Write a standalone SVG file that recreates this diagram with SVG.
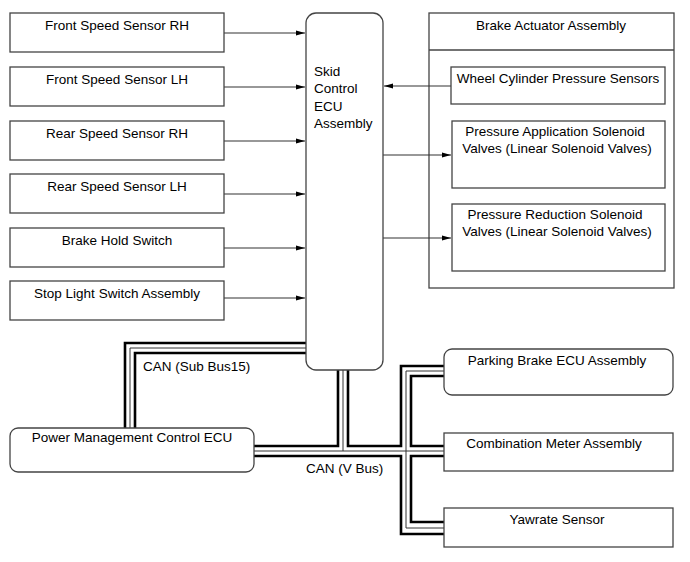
<svg xmlns="http://www.w3.org/2000/svg" width="690" height="562" viewBox="0 0 690 562">
<style>
text{font-family:"Liberation Sans",Arial,sans-serif;font-size:13.5px;fill:#000}
.c{text-anchor:middle}
.box{fill:#fff;stroke:#444;stroke-width:1.3}
.arr{fill:none;stroke:#333;stroke-width:1.1;marker-end:url(#ah)}
.tk{fill:none;stroke:#000;stroke-width:2.6}
.tn{fill:none;stroke:#333;stroke-width:1}
</style>
<defs>
<marker id="ah" markerWidth="10" markerHeight="6" refX="9" refY="3" orient="auto" markerUnits="userSpaceOnUse">
<path d="M0,0.5 L9,3 L0,5.5 Z" fill="#000"/>
</marker>
</defs>
<rect width="690" height="562" fill="#fff"/>

<g id="brake-actuator"><rect x="429" y="13" width="245" height="275" fill="none" stroke="#444" stroke-width="1.3"/><line x1="429" y1="50" x2="674" y2="50" stroke="#444" stroke-width="1.3"/>
<text class="c" x="551" y="29.5">Brake Actuator Assembly</text></g>

<g id="connectors">
<path class="arr" d="M224,33 H305"/>
<path class="arr" d="M224,87 H305"/>
<path class="arr" d="M224,141 H305"/>
<path class="arr" d="M224,194 H305"/>
<path class="arr" d="M224,248 H305"/>
<path class="arr" d="M224,298 H305"/>
<path class="arr" d="M451,86 H384"/>
<path class="arr" d="M383,155 H451"/>
<path class="arr" d="M383,238 H451"/>
<!-- CAN Sub Bus15 -->
<path class="tk" d="M306,343 H125 V428"/>
<path class="tn" d="M306,348 H130 V428"/>
<path class="tk" d="M306,353 H135 V428"/>
<!-- CAN V Bus -->
<path class="tk" d="M338,370 V446 H254"/>
<path class="tn" d="M343,370 V451"/>
<path class="tn" d="M254,451 H444"/>
<path class="tk" d="M348,370 V446 H401 V366 H444"/>
<path class="tn" d="M444,371 H406 V528 H444"/>
<path class="tk" d="M444,376 H411 V446 H444"/>
<path class="tk" d="M444,456 H411 V522 H444"/>
<path class="tk" d="M254,456 H401 V534 H444"/>
</g>

<g id="fss-rh"><rect class="box" x="10" y="13" width="214" height="39"/><text class="c" x="117" y="29.5">Front Speed Sensor RH</text></g>
<g id="fss-lh"><rect class="box" x="10" y="67" width="214" height="39"/><text class="c" x="117" y="83.5">Front Speed Sensor LH</text></g>
<g id="rss-rh"><rect class="box" x="10" y="121" width="214" height="39"/><text class="c" x="117" y="137.5">Rear Speed Sensor RH</text></g>
<g id="rss-lh"><rect class="box" x="10" y="174" width="214" height="39"/><text class="c" x="117" y="190.5">Rear Speed Sensor LH</text></g>
<g id="brake-hold"><rect class="box" x="10" y="228" width="214" height="39"/><text class="c" x="117" y="244.5">Brake Hold Switch</text></g>
<g id="stop-light"><rect class="box" x="10" y="281" width="214" height="39"/><text class="c" x="117" y="297.5">Stop Light Switch Assembly</text></g>

<g id="skid-ecu"><rect class="box" x="306" y="13" width="77" height="357" rx="10"/>
<text x="314" y="75.5">Skid</text><text x="314" y="93">Control</text><text x="314" y="110.5">ECU</text><text x="314" y="128">Assembly</text></g>

<g id="wheel-cyl"><rect class="box" x="451" y="67" width="214" height="37"/><text class="c" x="558" y="82.5">Wheel Cylinder Pressure Sensors</text></g>
<g id="press-app"><rect class="box" x="452" y="121" width="213" height="67"/><text class="c" x="555" y="136">Pressure Application Solenoid</text><text class="c" x="557" y="153">Valves (Linear Solenoid Valves)</text></g>
<g id="press-red"><rect class="box" x="452" y="204" width="213" height="67"/><text class="c" x="555" y="219">Pressure Reduction Solenoid</text><text class="c" x="557" y="236">Valves (Linear Solenoid Valves)</text></g>

<g id="power-mgmt"><rect class="box" x="10" y="428" width="244" height="44" rx="8"/><text class="c" x="132" y="441.5">Power Management Control ECU</text></g>
<g id="parking-brake"><rect class="box" x="444" y="349" width="229" height="46" rx="8"/><text class="c" x="557" y="364.5">Parking Brake ECU Assembly</text></g>
<g id="combination-meter"><rect class="box" x="444" y="433" width="229" height="38"/><text class="c" x="554" y="448">Combination Meter Assembly</text></g>
<g id="yawrate"><rect class="box" x="444" y="508" width="229" height="39"/><text class="c" x="557" y="523.5">Yawrate Sensor</text></g>

<g id="labels">
<text x="143" y="370.5">CAN (Sub Bus15)</text>
<text x="306" y="472.5">CAN (V Bus)</text>
</g>
</svg>
